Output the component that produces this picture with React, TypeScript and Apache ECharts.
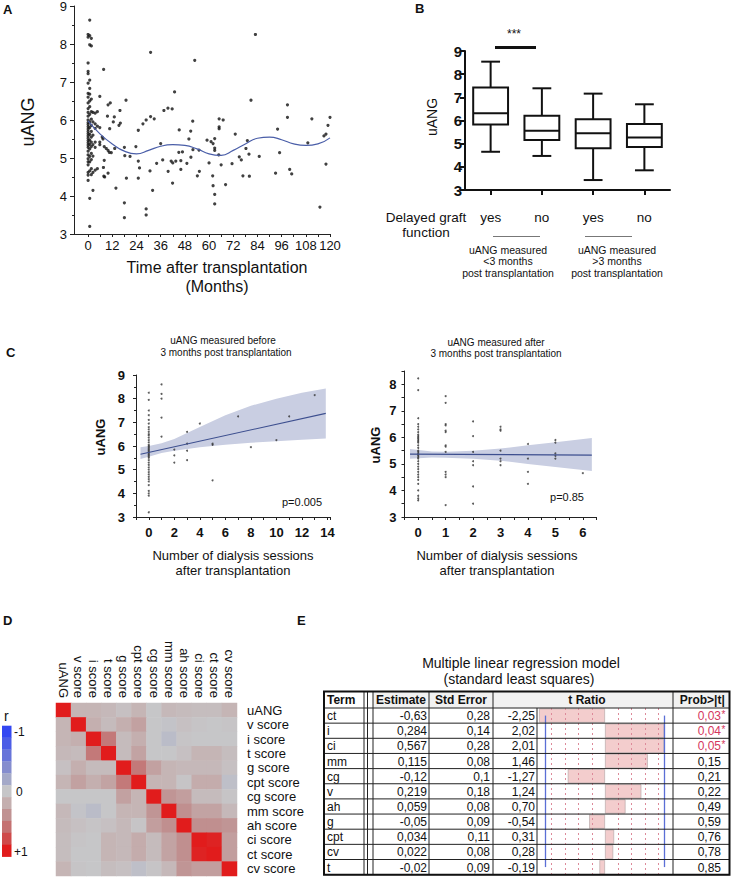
import { useEffect, useRef } from 'react';
import * as echarts from 'echarts';

const FONT = '"Liberation Sans", Arial, Helvetica, sans-serif';
const INK = '#111111';

// ================= Panel A : uANG over time =================
const monthTickValues = [0, 6, 12, 18, 24, 30, 36, 42, 48, 54, 60, 66, 72, 78, 84, 90, 96, 102, 108, 114, 120];
const monthLabelValues = [0, 12, 24, 36, 48, 60, 72, 84, 96, 108, 120];
const uangOverTime: [number, number][] = [
  [0, 8.25], [0, 8.18], [0, 7.5], [0, 7.28], [0, 7.22], [0, 6.97], [0, 6.7], [0, 6.6], [0, 6.45], [0, 6.3], [0, 6.2],
  [0, 6.1], [0, 6.0], [0, 5.93], [0, 5.88], [0, 5.82], [0, 5.76], [0, 5.7], [0, 5.64], [0, 5.58], [0, 5.52], [0, 5.46],
  [0, 5.4], [0, 5.34], [0, 5.28], [0, 5.18], [0, 5.08], [0, 4.98], [0, 4.9], [0, 4.82], [0, 4.62], [0, 4.55], [0, 4.41],
  [0.8, 8.63], [0.8, 8.22], [0.8, 7.98], [0.8, 7.05], [0.8, 6.83], [0.8, 6.68], [0.8, 6.5], [0.8, 6.35], [0.8, 6.15],
  [0.8, 5.95], [0.8, 5.8], [0.8, 5.62], [0.8, 5.47], [0.8, 5.36], [0.8, 5.24], [0.8, 5.04], [0.8, 4.9], [0.8, 4.66],
  [0.8, 3.94], [0.8, 3.2],
  [1.6, 8.15], [1.6, 7.95], [1.6, 6.55], [1.6, 6.22], [1.6, 6.02], [1.6, 5.86], [1.6, 5.7], [1.6, 5.55], [1.6, 5.42],
  [1.6, 5.3], [1.6, 5.12], [1.6, 4.96], [1.6, 4.72], [1.6, 4.56],
  [2.4, 6.2], [2.4, 5.95], [2.4, 5.6], [2.4, 5.35], [2.4, 5.05], [2.4, 4.62], [2.4, 4.15],
  [3.5, 6.18], [3.5, 5.9], [3.5, 5.78], [3.5, 5.42], [3.5, 5.28], [3.5, 4.68],
  [4.6, 6.22], [4.6, 5.84], [4.6, 4.72], [5.8, 6.62], [5.8, 5.8], [5.8, 5.42], [5.8, 5.35],
  [7.7, 7.33], [7.0, 5.55], [7.4, 5.5], [8.0, 5.3], [8.0, 4.94], [7.6, 4.75], [7.8, 4.52], [8.2, 4.5], [9.0, 5.25],
  [9.6, 6.1], [9.9, 6.4], [9.9, 5.2], [9.9, 4.6], [10.5, 5.15], [10.7, 5.77], [11, 6.45], [11.5, 5.14], [12.5, 5.95],
  [13, 6.08], [13.2, 5.25], [13.8, 4.21], [15.3, 5.86], [15.8, 6.25], [16.0, 5.92], [18, 5.28], [18.2, 5.06], [18, 3.82],
  [18, 3.43], [18.8, 6.52], [19, 4.47], [20.8, 5.04], [23.7, 5.3], [24.9, 5.73], [24.9, 4.47], [25.5, 4.74], [24.9, 4.92],
  [27.2, 5.9], [28.8, 6.0], [28.8, 3.66], [28.8, 3.5], [30.7, 4.66], [31, 6.09], [31, 7.78], [32, 4.15], [32.8, 6.03],
  [34, 4.86], [36, 5.38], [37, 4.95], [37.6, 6.25], [39.6, 6.31], [39.7, 4.65], [41.2, 4.92], [41.7, 6.29], [41.9, 4.34],
  [42, 4.87], [42.9, 6.74], [43.5, 4.92], [45.2, 5.74], [45, 5.15], [46, 4.7], [46.8, 5.16], [46, 4.93], [49, 4.86],
  [50, 5.5], [50.9, 5.71], [51.9, 5.97], [51, 5.02], [52, 5.22], [52.9, 7.57], [54.2, 4.53], [55.2, 4.65], [55, 5.21],
  [59, 5.47], [60, 4.87], [61, 5.43], [62, 5.38], [62.8, 5.51], [61.8, 4.53], [62, 4.27], [62.8, 5.26], [62.8, 5.2],
  [62.8, 4.04], [62.8, 3.79], [64.8, 5.08], [65, 6.03], [65, 5.77], [65, 5.82], [67, 6.0], [66, 4.82], [68.2, 4.3],
  [71.4, 4.85], [73, 5.63], [75, 5.03], [76, 4.95], [76.8, 4.53], [78.3, 5.25], [79, 5.46], [79.8, 5.1], [80, 4.52],
  [80.8, 6.52], [83, 8.25], [84.9, 5.04], [93, 4.6], [94, 5.76], [95, 5.14], [98.9, 6.4], [98.9, 6.07], [100, 4.7],
  [101, 4.58], [109, 5.4], [111, 6.03], [115, 3.71], [117, 5.58], [118, 5.63], [118, 4.84], [119, 5.86], [120, 6.07],
];
const trendMonths = [0, 6, 12, 18, 24, 30, 36, 42, 48, 54, 60, 66, 72, 78, 84, 90, 96, 102, 108, 114, 120];
const trendUang = [5.98, 5.63, 5.37, 5.18, 5.11, 5.2, 5.31, 5.35, 5.33, 5.24, 5.11, 5.07, 5.2, 5.37, 5.52, 5.55, 5.48, 5.37, 5.33, 5.37, 5.53];

// ================= Panel B : box plots =================
const dgfCategories = ['yes', 'no', 'yes', 'no'];
const boxMin = [4.65, 4.47, 3.43, 3.85];
const boxQ1 = [5.83, 5.16, 4.8, 4.86];
const boxMedian = [6.31, 5.56, 5.45, 5.27];
const boxQ3 = [7.42, 6.21, 6.05, 5.85];
const boxMax = [8.54, 7.39, 7.16, 6.7];

// ================= Panel C : dialysis sessions =================
const beforePoints: [number, number][] = [
  [0, 8.25], [0, 7.95], [0, 7.5], [0, 7.3], [0, 7.1], [0, 6.95], [0, 6.8], [0, 6.7], [0, 6.6], [0, 6.5], [0, 6.45],
  [0, 6.35], [0, 6.25], [0, 6.15], [0, 6.05], [0, 6.0], [0, 5.95], [0, 5.9], [0, 5.85], [0, 5.8], [0, 5.75], [0, 5.7],
  [0, 5.65], [0, 5.6], [0, 5.55], [0, 5.5], [0, 5.4], [0, 5.3], [0, 5.2], [0, 5.1], [0, 5.0], [0, 4.9], [0, 4.8],
  [0, 4.7], [0, 4.6], [0, 4.5], [0, 4.35], [0, 4.1], [0, 4.0], [0, 3.9], [0, 3.2],
  [1, 8.6], [1, 8.2], [1, 8.0], [1, 7.2], [1, 6.4], [2, 5.85], [2, 5.6], [2, 5.3], [3, 6.6], [3, 6.1], [3, 5.8], [3, 5.4],
  [4, 6.95], [5, 6.1], [5, 6.05], [5, 4.55], [7, 7.25], [8, 5.95], [10, 6.25], [11, 7.25], [13, 8.15],
];
const beforeFitX = [-0.65, 13.87];
const beforeFitY = [5.65, 7.38];
const beforeBandX = [-0.65, 0, 1, 2, 4, 6, 8, 10, 12, 13.87];
const beforeBandLow = [5.45, 5.55, 5.7, 5.8, 5.95, 6.05, 6.14, 6.2, 6.26, 6.32];
const beforeBandHigh = [5.95, 6.0, 6.12, 6.3, 6.8, 7.3, 7.7, 8.0, 8.25, 8.43];

const afterPoints: [number, number][] = [
  [0, 8.22], [0, 7.78], [0, 6.72], [0, 6.5], [0, 6.4], [0, 6.3], [0, 6.2], [0, 6.1], [0, 6.05], [0, 6.0], [0, 5.95],
  [0, 5.9], [0, 5.85], [0, 5.8], [0, 5.7], [0, 5.6], [0, 5.5], [0, 5.45], [0, 5.4], [0, 5.35], [0, 5.3], [0, 5.25],
  [0, 5.2], [0, 5.1], [0, 5.0], [0, 4.9], [0, 4.8], [0, 4.7], [0, 4.6], [0, 4.5], [0, 4.4], [0, 4.25], [0, 4.0],
  [0, 3.8], [0, 3.7], [0, 3.63],
  [1, 7.55], [1, 7.3], [1, 6.5], [1, 6.45], [1, 6.25], [1, 6.2], [1, 5.7], [1, 5.65], [1, 5.45], [1, 4.7], [1, 4.6],
  [1, 4.5], [1, 3.45],
  [2, 6.6], [2, 6.05], [2, 5.45], [2, 5.1], [2, 4.95], [2, 4.15], [2, 3.5],
  [3, 6.4], [3, 6.3], [3, 6.25], [3, 5.5], [3, 5.2], [3, 5.1], [3, 4.95],
  [4, 5.75], [4, 5.2], [4, 4.7], [4, 4.25], [5, 5.9], [5, 5.8], [5, 5.4], [5, 5.3], [5, 5.2], [6, 4.65],
];
const afterFitX = [-0.3, 6.33];
const afterFitY = [5.37, 5.33];
const afterBandX = [-0.3, 0.5, 1, 2, 3, 4, 5, 6.33];
const afterBandLow = [5.19, 5.24, 5.23, 5.19, 5.12, 5.0, 4.88, 4.73];
const afterBandHigh = [5.56, 5.47, 5.46, 5.5, 5.58, 5.7, 5.82, 5.98];

// ================= Panel D : correlation heat map =================
const scoreLabels = ['uANG', 'v score', 'i score', 't score', 'g score', 'cpt score', 'cg score', 'mm score', 'ah score', 'ci score', 'ct score', 'cv score'];
const corrMatrix = [
  [1, 0.15, 0.15, 0.12, 0.05, 0.15, 0, 0.12, 0.1, 0.08, 0.08, 0.15],
  [0.15, 1, 0.2, 0.1, 0.2, 0.3, 0, -0.02, 0.05, 0.02, 0, 0.02],
  [0.15, 0.2, 1, 0.55, 0.1, 0.2, 0, -0.07, 0.02, 0, 0, 0],
  [0.12, 0.1, 0.55, 1, 0.1, 0.28, 0, 0, 0.05, 0.15, 0.15, 0.08],
  [0.05, 0.2, 0.1, 0.1, 1, 0.55, 0.3, 0.15, 0.12, 0.12, 0.12, 0.05],
  [0.15, 0.3, 0.2, 0.28, 0.55, 1, 0.15, 0.15, 0.02, 0.22, 0.22, -0.05],
  [0, 0, 0, 0, 0.3, 0.15, 1, 0.38, 0.32, 0.1, 0.1, 0.02],
  [0.12, -0.02, -0.07, 0, 0.15, 0.15, 0.38, 1, 0.42, 0.28, 0.28, 0.12],
  [0.1, 0.05, 0.02, 0.05, 0.12, 0.02, 0.32, 0.42, 1, 0.42, 0.42, 0.38],
  [0.08, 0.02, 0, 0.15, 0.12, 0.22, 0.1, 0.28, 0.42, 1, 0.97, 0.32],
  [0.08, 0, 0, 0.15, 0.12, 0.22, 0.1, 0.28, 0.42, 0.97, 1, 0.32],
  [0.15, 0.02, 0, 0.08, 0.05, -0.05, 0.02, 0.12, 0.38, 0.32, 0.32, 1],
];
const corrPalette = ['#3347f2', '#4c5de6', '#6774d9', '#858dce', '#a4a9c8', '#c6c6c8', '#c4afaf', '#c09292', '#c47171', '#cf4a4a', '#e11c1c'];

// ================= Panel E : regression table =================
const termNames = ['ct', 'i', 'ci', 'mm', 'cg', 'v', 'ah', 'g', 'cpt', 'cv', 't'];
const estimates = [-0.63, 0.284, 0.567, 0.115, -0.12, 0.219, 0.059, -0.05, 0.034, 0.022, -0.02];
const stdErrors = [0.28, 0.14, 0.28, 0.08, 0.1, 0.18, 0.08, 0.09, 0.11, 0.08, 0.09];
const tRatios = [-2.25, 2.02, 2.01, 1.46, -1.27, 1.24, 0.7, -0.54, 0.31, 0.28, -0.19];
const pValues = [0.03, 0.04, 0.05, 0.15, 0.21, 0.22, 0.49, 0.59, 0.76, 0.78, 0.85];
const tCritical = 2.03;
const tGuides = [-1.82, -1.37, -0.91, -0.45, 0.45, 0.91, 1.37, 1.82];

// ---------------- helpers ----------------
const comma = (s: string) => s.replace('.', ',');

function txt(text: string, x: number, y: number, o: any = {}) {
  return {
    type: 'text', x, y, rotation: o.rotation || 0, silent: true, z: o.z ?? 50,
    style: {
      text, fontSize: o.size || 12, fontWeight: o.weight || 'normal', fontFamily: FONT,
      fill: o.color || INK, textAlign: o.align || 'center', textVerticalAlign: o.valign || 'middle',
    },
  };
}
function ln(x1: number, y1: number, x2: number, y2: number, color = INK, width = 1, z = 50) {
  return { type: 'line', silent: true, z, shape: { x1, y1, x2, y2 }, style: { stroke: color, lineWidth: width } };
}

function bandRenderer(xs: number[], lo: number[], hi: number[]) {
  return (_params: any, api: any) => {
    const pts: number[][] = [];
    for (let i = 0; i < xs.length; i++) pts.push(api.coord([xs[i], hi[i]]));
    for (let i = xs.length - 1; i >= 0; i--) pts.push(api.coord([xs[i], lo[i]]));
    return { type: 'polygon', shape: { points: pts }, style: { fill: '#c9cee2' } };
  };
}

function boxRenderer(_params: any, api: any) {
  const i = api.value(0);
  const c = (v: number) => api.coord([i, v]);
  const cx = c(api.value(1))[0];
  const yMin = c(api.value(1))[1];
  const yQ1 = c(api.value(2))[1];
  const yMed = c(api.value(3))[1];
  const yQ3 = c(api.value(4))[1];
  const yMax = c(api.value(5))[1];
  const bw = api.size([1, 0])[0] * 0.68;
  const h = bw / 2;
  const cap = bw * 0.27;
  const st = { stroke: INK, lineWidth: 2, fill: 'none' };
  return {
    type: 'group',
    children: [
      { type: 'line', shape: { x1: cx, y1: yQ3, x2: cx, y2: yMax }, style: st },
      { type: 'line', shape: { x1: cx, y1: yQ1, x2: cx, y2: yMin }, style: st },
      { type: 'line', shape: { x1: cx - cap, y1: yMax, x2: cx + cap, y2: yMax }, style: st },
      { type: 'line', shape: { x1: cx - cap, y1: yMin, x2: cx + cap, y2: yMin }, style: st },
      { type: 'rect', shape: { x: cx - h, y: yQ3, width: bw, height: yQ1 - yQ3 }, style: { stroke: INK, lineWidth: 2, fill: '#fff' } },
      { type: 'line', shape: { x1: cx - h, y1: yMed, x2: cx + h, y2: yMed }, style: st },
    ],
  };
}

function tableGraphics() {
  const els: any[] = [];
  const L = 324, TERM_R = 364, GAP_R = 373, EST_R = 429, STD_R = 493, TNUM_R = 537, BAR_R = 673, R = 729.5;
  const TOP = 691.5, HEAD_B = 708, ROW_H = 15.15;
  const BOTTOM = HEAD_B + ROW_H * termNames.length;
  els.push({ type: 'rect', silent: true, z: 1, shape: { x: GAP_R, y: TOP, width: R - GAP_R, height: HEAD_B - TOP }, style: { fill: '#f1f1f1' } });
  for (let i = 0; i <= termNames.length; i++) {
    const y = HEAD_B + ROW_H * i;
    els.push(ln(L, y, R, y, '#222', 1, 60));
  }
  [TERM_R, TERM_R + 3.5, GAP_R, EST_R, STD_R, BAR_R].forEach((x) => els.push(ln(x, TOP, x, BOTTOM, '#222', 1, 60)));
  els.push(ln(TNUM_R, HEAD_B, TNUM_R, BOTTOM, '#222', 1, 60));
  els.push({ type: 'rect', silent: true, z: 61, shape: { x: L, y: TOP, width: R - L, height: BOTTOM - TOP }, style: { fill: 'none', stroke: '#111', lineWidth: 2 } });
  const hy = (TOP + HEAD_B) / 2 + 0.5;
  els.push(txt('Term', L + 3, hy, { weight: 'bold', size: 12, align: 'left' }));
  els.push(txt('Estimate', (GAP_R + EST_R) / 2, hy, { weight: 'bold', size: 12 }));
  els.push(txt('Std Error', (EST_R + STD_R) / 2, hy, { weight: 'bold', size: 12 }));
  els.push(txt('t Ratio', 587, hy, { weight: 'bold', size: 12 }));
  els.push(txt('Prob>|t|', (BAR_R + R) / 2 + 1, hy, { weight: 'bold', size: 12 }));
  termNames.forEach((t, i) => {
    const y = HEAD_B + ROW_H * (i + 0.5) + 0.5;
    els.push(txt(t, L + 3, y, { align: 'left', size: 12 }));
    els.push(txt(comma(String(estimates[i])), EST_R - 2, y, { align: 'right', size: 12 }));
    els.push(txt(comma(String(stdErrors[i])), STD_R - 3, y, { align: 'right', size: 12 }));
    els.push(txt(comma(tRatios[i].toFixed(2)), TNUM_R - 2, y, { align: 'right', size: 12 }));
    const sig = pValues[i] <= 0.05;
    els.push(txt(comma(pValues[i].toFixed(2)), 721, y, { align: 'right', size: 12, color: sig ? '#d5365e' : INK }));
    if (sig) els.push(txt('*', 721.5, y - 2, { align: 'left', size: 10, color: '#d5365e' }));
  });
  return els;
}

function colorBarGraphics() {
  const els: any[] = [];
  const top = 725.7, bandH = 11.9;
  corrPalette.forEach((c, i) => {
    els.push({ type: 'rect', silent: true, shape: { x: 2, y: top + i * bandH, width: 9.5, height: bandH + 0.3 }, style: { fill: c } });
  });
  els.push(txt('r', 4, 716, { size: 14, align: 'left' }));
  els.push(txt('-1', 14, 732, { size: 12, align: 'left' }));
  els.push(txt('0', 16, 792, { size: 12, align: 'left' }));
  els.push(txt('+1', 14, 852, { size: 12, align: 'left' }));
  return els;
}

function buildOption(): any {
  const axisBase = (gridIndex: number) => ({
    gridIndex,
    splitLine: { show: false },
    axisLine: { show: true, onZero: false, lineStyle: { color: '#222', width: 1 } },
    axisTick: { show: true, length: 3, lineStyle: { color: '#222' } },
  });
  const lbl = (o: any = {}) => ({ color: INK, fontFamily: FONT, fontSize: 13, ...o });
  const intOnly = (v: number) => (Number.isInteger(v) && v >= 0 ? String(v) : '');

  const heatData: number[][] = [];
  corrMatrix.forEach((row, r) => row.forEach((v, c) => heatData.push([c, r, v])));

  const graphics: any[] = [
    // Panel A
    txt('A', 3, 9, { weight: 'bold', size: 13, align: 'left' }),
    txt('uANG', 28, 122, { size: 18, rotation: Math.PI / 2 }),
    txt('Time after transplantation', 217, 267, { size: 16 }),
    txt('(Months)', 217, 286, { size: 16 }),
    // Panel B
    txt('B', 415, 8, { weight: 'bold', size: 13, align: 'left' }),
    txt('uANG', 432, 117, { size: 14, rotation: Math.PI / 2 }),
    txt('***', 514, 34, { size: 12 }),
    ln(495, 47.5, 536, 47.5, INK, 3),
    txt('Delayed graft', 426, 217, { size: 13.5 }),
    txt('function', 426, 232, { size: 13.5 }),
    ln(493, 236.5, 540, 236.5, '#777', 1),
    ln(585, 236.5, 632, 236.5, '#777', 1),
    txt('uANG measured', 508, 250, { size: 10.5 }),
    txt('<3 months', 508, 261, { size: 10.5 }),
    txt('post transplantation', 508, 273, { size: 10.5 }),
    txt('uANG measured', 617, 250, { size: 10.5 }),
    txt('>3 months', 617, 261, { size: 10.5 }),
    txt('post transplantation', 617, 273, { size: 10.5 }),
    // Panel C
    txt('C', 6, 352, { weight: 'bold', size: 13, align: 'left' }),
    txt('uANG measured before', 223, 340, { size: 10 }),
    txt('3 months post transplantation', 226, 352, { size: 10 }),
    txt('uANG measured after', 496, 342, { size: 10 }),
    txt('3 months post transplantation', 496, 353.5, { size: 10 }),
    txt('uANG', 100, 437, { size: 13, weight: 'bold', rotation: Math.PI / 2 }),
    txt('uANG', 375, 445, { size: 13, weight: 'bold', rotation: Math.PI / 2 }),
    txt('p=0.005', 302, 502, { size: 11 }),
    txt('p=0.85', 567, 497, { size: 11 }),
    txt('Number of dialysis sessions', 233, 555, { size: 13 }),
    txt('after transplantation', 233, 570, { size: 13 }),
    txt('Number of dialysis sessions', 497, 555, { size: 13 }),
    txt('after transplantation', 497, 570, { size: 13 }),
    // Panel D
    txt('D', 3, 620, { weight: 'bold', size: 13, align: 'left' }),
    ...colorBarGraphics(),
    // Panel E
    txt('E', 297, 620, { weight: 'bold', size: 13, align: 'left' }),
    txt('Multiple linear regression model', 521, 663, { size: 14 }),
    txt('(standard least squares)', 519, 679, { size: 14 }),
    ...tableGraphics(),
  ];

  return {
    animation: false,
    backgroundColor: '#ffffff',
    textStyle: { fontFamily: FONT },
    grid: [
      { left: 74, top: 6, width: 256, height: 228, outerBoundsMode: 'none' },
      { left: 465, top: 51, width: 205, height: 139, outerBoundsMode: 'none' },
      { left: 136, top: 375, width: 194, height: 142, outerBoundsMode: 'none' },
      { left: 404.5, top: 371, width: 192, height: 146, outerBoundsMode: 'none' },
      { left: 56, top: 703, width: 181, height: 173, outerBoundsMode: 'none' },
      { left: 537, top: 708, width: 136, height: 15.15 * 11, outerBoundsMode: 'none' },
    ],
    xAxis: [
      {
        ...axisBase(0), type: 'value', min: -7, max: 120,
        axisTick: { show: true, length: 3, customValues: monthTickValues, lineStyle: { color: '#222' } },
        axisLabel: lbl({ customValues: monthLabelValues, margin: 5 }),
      },
      {
        ...axisBase(1), type: 'category', data: dgfCategories,
        axisLine: { show: true, onZero: false, lineStyle: { color: INK, width: 2 } },
        axisTick: { show: true, alignWithLabel: true, length: 5, lineStyle: { color: INK, width: 2 } },
        axisLabel: lbl({ fontSize: 13.5, margin: 20 }),
      },
      {
        ...axisBase(2), type: 'value', min: -1, max: 14.2, interval: 1,
        axisLabel: lbl({ fontWeight: 'bold', margin: 9, formatter: (v: number) => (v >= 0 && v % 2 === 0 ? String(v) : '') }),
      },
      {
        ...axisBase(3), type: 'value', min: -0.5, max: 6.5, interval: 0.5,
        axisLabel: lbl({ fontWeight: 'bold', margin: 9, formatter: intOnly }),
      },
      {
        gridIndex: 4, type: 'category', position: 'top', data: scoreLabels,
        axisLine: { show: false }, axisTick: { show: false }, splitLine: { show: false },
        axisLabel: lbl({ rotate: 90, margin: 5, interval: 0 }),
      },
      { gridIndex: 5, type: 'value', min: -2.32, max: 2.32, show: false, splitLine: { show: false } },
    ],
    yAxis: [
      {
        ...axisBase(0), type: 'value', min: 3, max: 9, interval: 1,
        axisTick: { show: true, length: 4, lineStyle: { color: '#222' } },
        minorTick: { show: true, splitNumber: 2, length: 2, lineStyle: { color: '#222' } },
        minorSplitLine: { show: false },
        axisLabel: lbl({ margin: 7 }),
      },
      {
        ...axisBase(1), type: 'value', min: 3, max: 9, interval: 1,
        axisLine: { show: true, onZero: false, lineStyle: { color: INK, width: 2 } },
        axisTick: { show: true, length: 5, lineStyle: { color: INK, width: 2 } },
        axisLabel: lbl({ fontWeight: 'bold', fontSize: 15, margin: 3 }),
      },
      {
        ...axisBase(2), type: 'value', min: 3, max: 9, interval: 1,
        minorTick: { show: true, splitNumber: 2, length: 2, lineStyle: { color: '#222' } },
        minorSplitLine: { show: false },
        axisLabel: lbl({ fontWeight: 'bold', margin: 11 }),
      },
      {
        ...axisBase(3), type: 'value', min: 3, max: 8.5, interval: 0.5,
        axisLabel: lbl({ fontWeight: 'bold', margin: 8, formatter: intOnly }),
      },
      {
        gridIndex: 4, type: 'category', position: 'right', inverse: true, data: scoreLabels,
        axisLine: { show: false }, axisTick: { show: false }, splitLine: { show: false },
        axisLabel: lbl({ margin: 10, align: 'left', interval: 0 }),
      },
      { gridIndex: 5, type: 'category', inverse: true, data: termNames, show: false },
    ],
    visualMap: {
      type: 'continuous', show: false, seriesIndex: 10, min: -1, max: 1,
      inRange: { color: corrPalette },
    },
    series: [
      // 0 Panel A points
      {
        type: 'scatter', xAxisIndex: 0, yAxisIndex: 0, data: uangOverTime, symbolSize: 3.2,
        itemStyle: { color: INK }, silent: true,
      },
      // 1 Panel A trend
      {
        type: 'line', xAxisIndex: 0, yAxisIndex: 0, data: trendMonths.map((m, i) => [m, trendUang[i]]),
        smooth: true, showSymbol: false, symbol: 'none', lineStyle: { color: '#4a5ea8', width: 1.2 }, silent: true,
      },
      // 2 Panel B boxes
      {
        type: 'custom', xAxisIndex: 1, yAxisIndex: 1, clip: false, silent: true,
        data: dgfCategories.map((_, i) => [i, boxMin[i], boxQ1[i], boxMedian[i], boxQ3[i], boxMax[i]]),
        encode: { x: 0, y: [1, 2, 3, 4, 5] },
        renderItem: boxRenderer,
      },
      // 3 C-before band
      {
        type: 'custom', xAxisIndex: 2, yAxisIndex: 2, silent: true,
        data: [[beforeBandX[0], beforeBandLow[0]]], renderItem: bandRenderer(beforeBandX, beforeBandLow, beforeBandHigh),
      },
      // 4 C-before points
      { type: 'scatter', xAxisIndex: 2, yAxisIndex: 2, data: beforePoints, symbolSize: 2, itemStyle: { color: '#333' }, silent: true },
      // 5 C-before fit
      {
        type: 'line', xAxisIndex: 2, yAxisIndex: 2, data: beforeFitX.map((x, i) => [x, beforeFitY[i]]),
        showSymbol: false, symbol: 'none', lineStyle: { color: '#3d4f8f', width: 1.1 }, silent: true,
      },
      // 6 C-after band
      {
        type: 'custom', xAxisIndex: 3, yAxisIndex: 3, silent: true,
        data: [[afterBandX[0], afterBandLow[0]]], renderItem: bandRenderer(afterBandX, afterBandLow, afterBandHigh),
      },
      // 7 C-after points
      { type: 'scatter', xAxisIndex: 3, yAxisIndex: 3, data: afterPoints, symbolSize: 2, itemStyle: { color: '#333' }, silent: true },
      // 8 C-after fit
      {
        type: 'line', xAxisIndex: 3, yAxisIndex: 3, data: afterFitX.map((x, i) => [x, afterFitY[i]]),
        showSymbol: false, symbol: 'none', lineStyle: { color: '#3d4f8f', width: 1.3 }, silent: true,
      },
      // 9 placeholder to keep index stable (empty)
      { type: 'scatter', xAxisIndex: 0, yAxisIndex: 0, data: [], silent: true },
      // 10 Panel D heat map
      {
        type: 'heatmap', xAxisIndex: 4, yAxisIndex: 4, data: heatData, silent: true,
        itemStyle: { borderWidth: 0 }, emphasis: { disabled: true },
      },
      // 11 Panel E t-ratio bars
      {
        type: 'bar', xAxisIndex: 5, yAxisIndex: 5, data: tRatios, barCategoryGap: '6%', silent: true,
        itemStyle: { color: '#f3cdcd', borderColor: '#b7a9a9', borderWidth: 0.7 },
        markLine: {
          silent: true, symbol: ['none', 'none'], label: { show: false },
          data: [
            ...tGuides.map((g) => ({ xAxis: g, lineStyle: { color: '#dd8a9a', width: 1, type: [2, 3] } })),
            [
              { coord: [-tCritical, 0], lineStyle: { color: '#5b6fd6', width: 1.3, type: 'solid' } },
              { coord: [-tCritical, termNames.length - 1] },
            ],
            [
              { coord: [tCritical, 0], lineStyle: { color: '#5b6fd6', width: 1.3, type: 'solid' } },
              { coord: [tCritical, termNames.length - 1] },
            ],
          ],
        },
      },
    ],
    graphic: { elements: graphics },
  };
}

export default function App() {
  const ref = useRef<HTMLDivElement>(null);
  useEffect(() => {
    if (!ref.current) return;
    const chart = echarts.init(ref.current, undefined, { renderer: 'svg' });
    chart.setOption(buildOption());
    return () => chart.dispose();
  }, []);
  return (
    <div
      ref={ref}
      style={{ position: 'absolute', left: 0, top: 0, width: 731, height: 878, background: '#ffffff' }}
    />
  );
}
